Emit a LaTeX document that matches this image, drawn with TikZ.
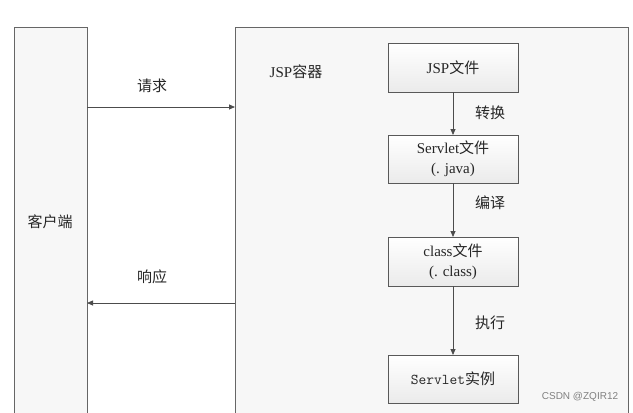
\documentclass[tikz,border=0pt]{standalone}
\usepackage{fontspec}
\setmainfont{Liberation Serif}
\newfontfamily\cjk{Noto Sans CJK SC}
\newfontfamily\wm{Liberation Sans}
\usetikzlibrary{arrows.meta}
\begin{document}
\begin{tikzpicture}[x=1pt,y=-1pt,
  frame/.style={draw=black!60,line width=0.8pt,fill=black!3},
  box/.style={draw=black!65,line width=0.9pt,top color=white,bottom color=black!8},
  lbl/.style={font=\fontsize{15}{20}\selectfont,align=center,text=black!85},
  arr/.style={draw=black!70,line width=0.8pt,-{Triangle[length=6pt,width=5pt]}}]
\useasboundingbox (0,0) rectangle (633,413);
\fill[white] (0,0) rectangle (633,413);
\draw[frame] (14,440) -- (14,27) -- (87,27) -- (87,440);
\draw[frame] (235,440) -- (235,27) -- (628,27) -- (628,440);
\node[lbl] (client) at (50,222) {\cjk 客户端};
\node[lbl] (cont) at (296,72) {JSP{\cjk 容器}};
\path[box] (388,43) rectangle (518,92); \node[lbl] (jsp) at (453,67.5) {JSP{\cjk 文件}};
\path[box] (388,135) rectangle (518,183); \node[lbl] (srv) at (453,159) {Servlet{\cjk 文件}\\({.} java)};
\path[box] (388,237) rectangle (518,286); \node[lbl] (cls) at (453,261.5) {class{\cjk 文件}\\({.} class)};
\path[box] (388,355) rectangle (518,403); \node[lbl] (inst) at (453,379) {\ttfamily Servlet{\cjk 实例}};
\coordinate (a1) at (453,92); \coordinate (a2) at (453,135);
\coordinate (b1) at (453,183); \coordinate (b2) at (453,237);
\coordinate (c1) at (453,286); \coordinate (c2) at (453,355);
\draw[arr] (a1) -- (a2); \draw[arr] (b1) -- (b2); \draw[arr] (c1) -- (c2);
\node[lbl] (t1) at (490,113) {\cjk 转换};
\node[lbl] (t2) at (490,203) {\cjk 编译};
\node[lbl] (t3) at (490,323) {\cjk 执行};
\coordinate (r1) at (87,107); \coordinate (r2) at (235,107);
\coordinate (s1) at (235,303); \coordinate (s2) at (87,303);
\draw[arr] (r1) -- (r2); \draw[arr] (s1) -- (s2);
\node[lbl] (req) at (152,86) {\cjk 请求};
\node[lbl] (resp) at (152,277) {\cjk 响应};
\node[font=\wm\fontsize{10}{11}\selectfont,text=black!50] (wm) at (580,397) {CSDN @ZQIR12};
\end{tikzpicture}
\end{document}
